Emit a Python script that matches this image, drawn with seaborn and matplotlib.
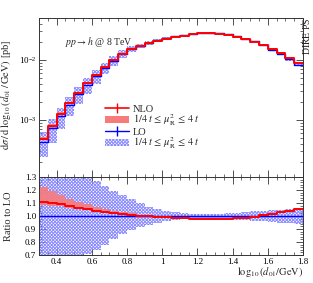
import matplotlib
matplotlib.use("Agg")
import numpy as np
import pandas as pd
import matplotlib.pyplot as plt
import seaborn as sns
from matplotlib.lines import Line2D
from matplotlib.patches import Patch
from matplotlib.ticker import MultipleLocator, FixedLocator, FixedFormatter, LogLocator, NullFormatter

# ---------------- data ----------------
bin_edges = [0.30, 0.35, 0.40, 0.45, 0.50, 0.55, 0.60, 0.65, 0.70, 0.75,
             0.80, 0.85, 0.90, 0.95, 1.00, 1.05, 1.10, 1.15, 1.20, 1.25,
             1.30, 1.35, 1.40, 1.45, 1.50, 1.55, 1.60, 1.65, 1.70, 1.75, 1.80]

nlo = [4.79e-4, 7.94e-4, 1.26e-3, 1.93e-3, 2.85e-3, 4.07e-3, 5.62e-3, 7.59e-3,
       1.00e-2, 1.27e-2, 1.51e-2, 1.71e-2, 1.94e-2, 2.10e-2, 2.26e-2, 2.44e-2,
       2.54e-2, 2.68e-2, 2.77e-2, 2.79e-2, 2.75e-2, 2.61e-2, 2.44e-2, 2.24e-2,
       2.02e-2, 1.78e-2, 1.51e-2, 1.29e-2, 1.07e-2, 8.81e-3]

lo = [4.32e-4, 7.22e-4, 1.156e-3, 1.787e-3, 2.676e-3, 3.876e-3, 5.404e-3, 7.369e-3,
      9.785e-3, 1.251e-2, 1.495e-2, 1.705e-2, 1.944e-2, 2.115e-2, 2.283e-2, 2.477e-2,
      2.587e-2, 2.735e-2, 2.832e-2, 2.856e-2, 2.812e-2, 2.663e-2, 2.482e-2, 2.267e-2,
      2.030e-2, 1.771e-2, 1.488e-2, 1.252e-2, 1.029e-2, 8.39e-3]

# scale-variation bands, expressed as ratio to LO
nlo_band_up = [1.22, 1.19, 1.16, 1.13, 1.11, 1.09, 1.07, 1.055, 1.04, 1.03,
               1.02, 1.01, 1.003, 0.998, 0.995, 0.99, 0.987, 0.985, 0.983, 0.982,
               0.983, 0.985, 0.988, 0.993, 1.0, 1.01, 1.021, 1.036, 1.047, 1.058]
nlo_band_dn = [1.085, 1.08, 1.075, 1.065, 1.055, 1.045, 1.035, 1.027, 1.02, 1.012,
               1.006, 1.0, 0.995, 0.99, 0.986, 0.981, 0.978, 0.976, 0.974, 0.973,
               0.974, 0.976, 0.979, 0.984, 0.99, 1.0, 1.01, 1.024, 1.034, 1.043]
lo_band_up = [1.45, 1.42, 1.39, 1.36, 1.33, 1.30, 1.27, 1.23, 1.19, 1.16,
              1.13, 1.10, 1.07, 1.055, 1.04, 1.03, 1.02, 1.015, 1.012, 1.012,
              1.015, 1.02, 1.025, 1.03, 1.035, 1.04, 1.045, 1.05, 1.055, 1.06]
lo_band_dn = [0.55, 0.58, 0.61, 0.65, 0.68, 0.71, 0.74, 0.78, 0.82, 0.86,
              0.89, 0.915, 0.93, 0.945, 0.96, 0.97, 0.975, 0.98, 0.985, 0.985,
              0.982, 0.978, 0.973, 0.968, 0.963, 0.958, 0.953, 0.948, 0.943, 0.938]

ratio_xticks = [0.4, 0.6, 0.8, 1.0, 1.2, 1.4, 1.6, 1.8]
ratio_xlabels = ["0.4", "0.6", "0.8", "1", "1.2", "1.4", "1.6", "1.8"]
ratio_yticks = [0.7, 0.8, 0.9, 1.0, 1.1, 1.2, 1.3]
ratio_ylabels = ["0.7", "0.8", "0.9", "1.0", "1.1", "1.2", "1.3"]

# ---------------- style ----------------
sns.set_style("ticks")
plt.rcParams['font.family'] = ['Liberation Serif', 'DejaVu Serif']
plt.rcParams['mathtext.fontset'] = 'stix'
plt.rcParams['hatch.linewidth'] = 0.7

RED = '#ff0000'
BLUE = '#0000ff'
RED_BAND = '#f77b7b'
HATCH_C = '#8a8aff'
HATCH = 'xxxxxxxxxx'

edges = np.array(bin_edges)
nlo_a = np.array(nlo)
lo_a = np.array(lo)
ratio = nlo_a / lo_a


def stepy(v):
    v = np.asarray(v, dtype=float)
    return np.append(v, v[-1])


fig = plt.figure(figsize=(3.13, 2.83), dpi=100)
ax = fig.add_axes([39/313, 1-177/283, 264/313, 159/283])
axr = fig.add_axes([39/313, 1-255/283, 264/313, 78/283], sharex=ax)

# ---------------- main panel ----------------
ax.fill_between(edges, stepy(lo_a*np.array(lo_band_dn)), stepy(lo_a*np.array(lo_band_up)),
                step='post', facecolor='none', edgecolor=HATCH_C, hatch=HATCH, linewidth=0)
ax.fill_between(edges, stepy(lo_a*np.array(nlo_band_dn)), stepy(lo_a*np.array(nlo_band_up)),
                step='post', facecolor=RED_BAND, edgecolor='none', linewidth=0, alpha=0.9)
df_main = pd.DataFrame({'x': edges, 'lo': stepy(lo_a), 'nlo': stepy(nlo_a)})
sns.lineplot(data=df_main, x='x', y='lo', ax=ax, color=BLUE, lw=1.0,
             drawstyle='steps-post', estimator=None, sort=False)
sns.lineplot(data=df_main, x='x', y='nlo', ax=ax, color=RED, lw=1.4,
             drawstyle='steps-post', estimator=None, sort=False)

ax.set_yscale('log')
ax.set_xlim(0.3, 1.8)
ax.set_ylim(1.12e-4, 5.0e-2)
ax.set_xlabel('')
ax.set_ylabel(r'$\mathrm{d}\sigma\,/\,\mathrm{d}\,\log_{10}(d_{01}\,/\,\mathrm{GeV})$ [pb]', fontsize=7.5)
ax.yaxis.set_label_coords(-0.098, 0.52)
ax.yaxis.set_major_locator(LogLocator(base=10, numticks=10))
ax.yaxis.set_minor_locator(LogLocator(base=10, subs=np.arange(2, 10), numticks=20))
ax.yaxis.set_minor_formatter(NullFormatter())
ax.tick_params(axis='x', which='both', labelbottom=False)

ax.text(0.10, 0.85, r'$pp \rightarrow h$ @ 8 TeV', transform=ax.transAxes, fontsize=7,
        ha='left', va='center')
fig.text(312/313, 1-18/283, 'D' + r'$\mathrm{IRE}$' + ' PS', rotation=90, fontsize=7,
         ha='right', va='top')

handles = [Line2D([0], [0], color=RED, lw=1.2, marker='|', markersize=7, markeredgewidth=1.0),
           Patch(facecolor=RED_BAND, edgecolor='none'),
           Line2D([0], [0], color=BLUE, lw=1.0, marker='|', markersize=7, markeredgewidth=1.0),
           Patch(facecolor='none', edgecolor=HATCH_C, hatch=HATCH, linewidth=0)]
labels = ['NLO', r'$1/4\;t\,\leq\,\mu_\mathrm{R}^2\,\leq\,4\;t$', 'LO',
          r'$1/4\;t\,\leq\,\mu_\mathrm{R}^2\,\leq\,4\;t$']
ax.legend(handles, labels, loc='upper left', bbox_to_anchor=(0.225, 0.495), frameon=False,
          fontsize=7.5, handlelength=2.3, handleheight=0.7, labelspacing=-0.12,
          handletextpad=0.4, borderpad=0.1)

# ---------------- ratio panel ----------------
axr.fill_between(edges, stepy(lo_band_dn), stepy(lo_band_up), step='post', facecolor='none',
                 edgecolor=HATCH_C, hatch=HATCH, linewidth=0)
axr.fill_between(edges, stepy(nlo_band_dn), stepy(nlo_band_up), step='post',
                 facecolor=RED_BAND, edgecolor='none', linewidth=0, alpha=0.9)
df_r = pd.DataFrame({'x': edges, 'one': stepy(lo_a/lo_a), 'r': stepy(ratio)})
sns.lineplot(data=df_r, x='x', y='one', ax=axr, color=BLUE, lw=1.0,
             drawstyle='steps-post', estimator=None, sort=False)
sns.lineplot(data=df_r, x='x', y='r', ax=axr, color=RED, lw=1.4,
             drawstyle='steps-post', estimator=None, sort=False)

axr.set_xlim(0.3, 1.8)
axr.set_ylim(0.7, 1.3)
axr.xaxis.set_major_locator(FixedLocator(ratio_xticks))
axr.xaxis.set_major_formatter(FixedFormatter(ratio_xlabels))
axr.xaxis.set_minor_locator(MultipleLocator(0.05))
axr.yaxis.set_major_locator(FixedLocator(ratio_yticks))
axr.yaxis.set_major_formatter(FixedFormatter(ratio_ylabels))
axr.yaxis.set_minor_locator(MultipleLocator(0.02))
axr.set_ylabel('Ratio to LO', fontsize=7.5)
axr.yaxis.set_label_coords(-0.098, 0.5)
axr.set_xlabel(r'$\log_{10}(d_{01}/\mathrm{GeV})$', fontsize=7.5)
axr.xaxis.set_label_coords(1.0, -0.13)
axr.xaxis.label.set_ha('right')

for a in (ax, axr):
    a.tick_params(which='both', direction='in', top=True, right=True, labelsize=6.5, pad=2,
                  colors='#333333', labelcolor='black')
    a.tick_params(which='major', length=5, width=0.6)
    a.tick_params(which='minor', length=2.5, width=0.5)
    for s in a.spines.values():
        s.set_linewidth(0.7)
        s.set_color('#333333')

fig.savefig('out.png', dpi=100)
